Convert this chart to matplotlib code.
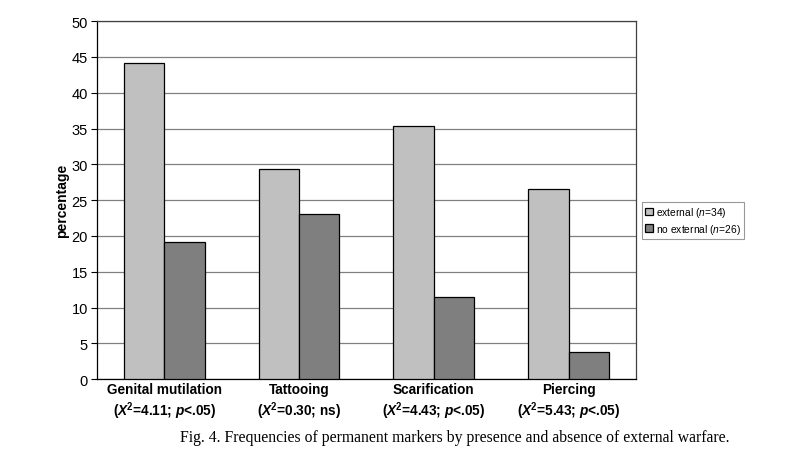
import matplotlib
matplotlib.use('Agg')
import matplotlib.pyplot as plt
import numpy as np

# frequencies of permanent markers (%), by presence/absence of external warfare
categories = ['Genital mutilation', 'Tattooing', 'Scarification', 'Piercing']
stats = [r'($\mathbf{X}^{\mathsf{2}}$=4.11; $\mathbf{p}$<.05)',
         r'($\mathbf{X}^{\mathsf{2}}$=0.30; ns)',
         r'($\mathbf{X}^{\mathsf{2}}$=4.43; $\mathbf{p}$<.05)',
         r'($\mathbf{X}^{\mathsf{2}}$=5.43; $\mathbf{p}$<.05)']
external = [44.1, 29.4, 35.3, 26.5]
no_external = [19.2, 23.1, 11.5, 3.8]
series_labels = [r'external ($n$=34)', r'no external ($n$=26)']

plt.rcParams['font.family'] = ['Liberation Sans', 'DejaVu Sans']
plt.rcParams['mathtext.fontset'] = 'custom'
plt.rcParams['mathtext.rm'] = 'Liberation Sans'
plt.rcParams['mathtext.it'] = 'Liberation Sans:italic'
plt.rcParams['mathtext.bf'] = 'Liberation Sans:bold:italic'
plt.rcParams['mathtext.sf'] = 'Liberation Sans:bold'

fig = plt.figure(figsize=(8, 4.52), dpi=100)
ax = fig.add_axes([0.121, 0.159, 0.674, 0.792])

x = np.arange(len(categories))
w = 0.3
b1 = ax.bar(x - w / 2, external, w, color='#c0c0c0', edgecolor='black', linewidth=0.9, zorder=3)
b2 = ax.bar(x + w / 2, no_external, w, color='#7f7f7f', edgecolor='black', linewidth=0.9, zorder=3)

ax.set_xlim(-0.5, len(categories) - 0.5)
ax.set_ylim(0, 50)
ax.set_yticks(np.arange(0, 51, 5))
ax.yaxis.grid(True, color='#808080', linewidth=0.9, zorder=0)
ax.tick_params(axis='y', labelsize=10.5, length=4, width=0.8, pad=2.5)
ax.set_xticks(x)
ax.set_xticklabels([c + '\n' + s for c, s in zip(categories, stats)],
                   fontweight='bold', fontsize=9.8, linespacing=1.2)
ax.tick_params(axis='x', length=0, pad=2)
for sp in ax.spines.values():
    sp.set_linewidth(0.9)
    sp.set_color('#404040')
ax.spines['left'].set_color('black')
ax.spines['bottom'].set_color('black')

ax.set_ylabel('percentage', fontweight='bold', fontsize=10, labelpad=2)

leg = fig.legend((b1, b2), series_labels, loc='upper left', bbox_to_anchor=(0.803, 0.551),
                 fontsize=7.4, frameon=True, fancybox=False, handlelength=0.75,
                 handleheight=0.75, handletextpad=0.25, borderpad=0.3, labelspacing=0.25,
                 borderaxespad=0)
leg.get_frame().set_edgecolor('#808080')
leg.get_frame().set_linewidth(0.8)

fig.text(0.225, 0.022, 'Fig. 4. Frequencies of permanent markers by presence and absence of external warfare.',
         family='Liberation Serif', fontsize=11.3, ha='left', va='baseline')

fig.savefig('out.png', dpi=100)
